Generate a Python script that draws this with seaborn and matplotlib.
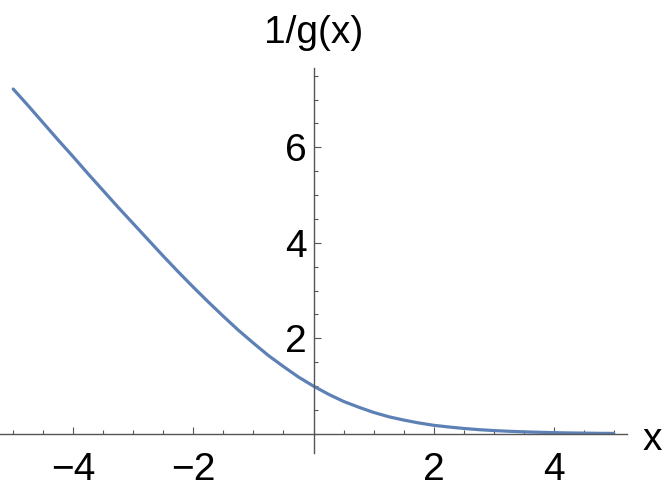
import numpy as np
import pandas as pd
import matplotlib
matplotlib.use("Agg")
import matplotlib.pyplot as plt
from matplotlib.ticker import FixedLocator, MultipleLocator
import seaborn as sns

# nilai
x_vals = [-5.0, -4.75, -4.5, -4.25, -4.0, -3.75, -3.5, -3.25, -3.0, -2.75,
          -2.5, -2.25, -2.0, -1.75, -1.5, -1.25, -1.0, -0.75, -0.5, -0.25,
          0.0, 0.25, 0.5, 0.75, 1.0, 1.25, 1.5, 1.75, 2.0, 2.25,
          2.5, 2.75, 3.0, 3.25, 3.5, 3.75, 4.0, 4.25, 4.5, 4.75, 5.0]
y_vals = [7.22, 6.87, 6.51, 6.15, 5.80, 5.44, 5.09, 4.74, 4.40, 4.06,
          3.72, 3.39, 3.07, 2.76, 2.46, 2.17, 1.90, 1.64, 1.41, 1.19,
          1.00, 0.83, 0.68, 0.56, 0.45, 0.36, 0.29, 0.23, 0.18, 0.145,
          0.114, 0.089, 0.070, 0.055, 0.043, 0.034, 0.026, 0.020, 0.016, 0.012, 0.010]
x_ticks = [-4, -2, 2, 4]
y_ticks = [2, 4, 6]

df = pd.DataFrame({'x': x_vals, 'y': y_vals})

sns.set_style("white")
plt.rcParams['font.family'] = ['Liberation Sans', 'DejaVu Sans']

fig = plt.figure(figsize=(6.64, 4.97), dpi=100)
ax = fig.add_axes([0, 44 / 497, 627 / 664, 385 / 497])

sns.lineplot(data=df, x='x', y='y', color='#5E81B5', lw=2.3, ax=ax)

ax.set_xlim(-5.22, 5.22)
ax.set_ylim(-0.4, 7.66)

# sumbu di titik asal
ax.spines['left'].set_position(('data', 0))
ax.spines['bottom'].set_position(('data', 0))
ax.spines['top'].set_visible(False)
ax.spines['right'].set_visible(False)
for s in ['left', 'bottom']:
    ax.spines[s].set_color('#555555')
    ax.spines[s].set_linewidth(1.0)

ax.xaxis.set_major_locator(FixedLocator(x_ticks))
ax.xaxis.set_minor_locator(MultipleLocator(0.5))
ax.yaxis.set_major_locator(FixedLocator(y_ticks))
ax.yaxis.set_minor_locator(MultipleLocator(0.5))
ax.set_xticklabels(['\u2212' + str(abs(t)) if t < 0 else str(t) for t in x_ticks])
ax.set_yticklabels([str(t) for t in y_ticks])

ax.tick_params(which='both', direction='in', color='#555555', width=0.8,
               bottom=True, left=True, labelcolor='black')
ax.tick_params(which='major', length=5, labelsize=28)
ax.tick_params(which='minor', length=3)
ax.tick_params(axis='x', which='major', pad=13)
ax.tick_params(axis='y', which='major', pad=5)

ax.set_xlabel('')
ax.set_ylabel('')
ax.grid(False)

fig.text(643 / 664, (497 - 450) / 497, 'x', ha='left', va='baseline', fontsize=28, color='black')
fig.text(314 / 664, (497 - 43) / 497, '1/g(x)', ha='center', va='baseline', fontsize=28, color='black')

fig.savefig('out.png', dpi=100)
